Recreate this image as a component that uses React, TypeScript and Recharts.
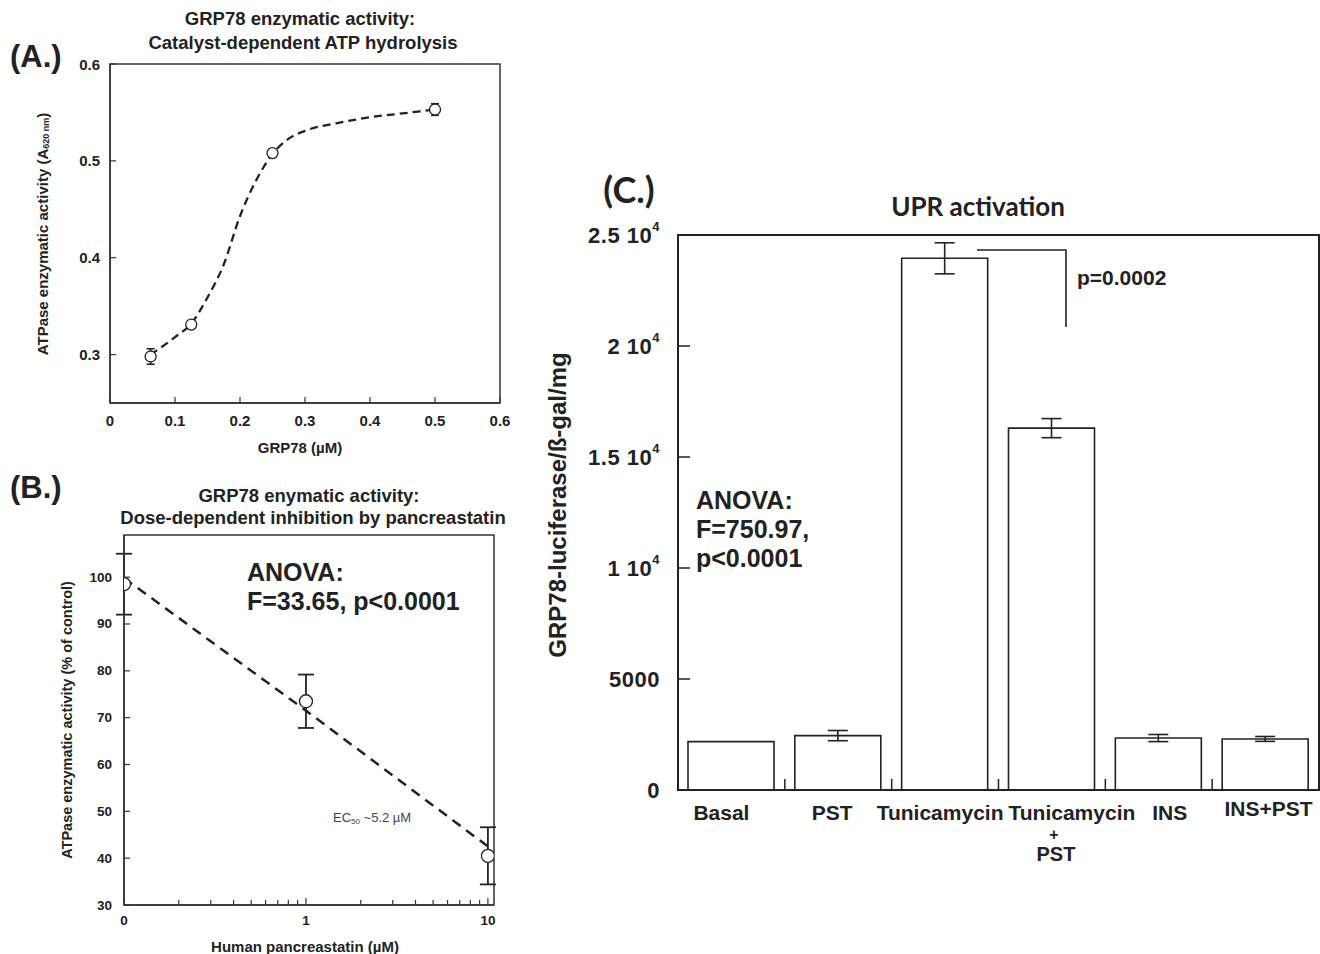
import React from "react"
import { ComposedChart, XAxis, YAxis, Line, Scatter, Bar, ErrorBar, ReferenceArea } from "recharts"

const FONT = "'Liberation Sans', Arial, sans-serif"
const TITLE_FONT = "Lato, 'Open Sans', sans-serif"
const INK = "#222"
const FRAME = "#333"

// (A.) catalyst-dependent ATP hydrolysis
const aPointX = [0.0625, 0.125, 0.25, 0.5]
const aPointY = [0.298, 0.331, 0.508, 0.553]
const aPointErr = [0.008, 0.003, 0.003, 0.006]
const aCurveX = [0.0625, 0.1, 0.125, 0.15, 0.175, 0.2, 0.225, 0.25, 0.275, 0.3, 0.35, 0.4, 0.45, 0.5]
const aCurveY = [0.3, 0.318, 0.332, 0.359, 0.393, 0.443, 0.48, 0.507, 0.523, 0.531, 0.539, 0.545, 0.549, 0.553]
const aXTicks = [0, 0.1, 0.2, 0.3, 0.4, 0.5, 0.6]
const aYTicks = [0.3, 0.4, 0.5, 0.6]

// (B.) inhibition by pancreastatin (log x, "0" drawn at 0.1)
const bPointX = [0.1, 1, 10]
const bPointY = [98.5, 73.5, 40.5]
const bPointErr = [6.5, 5.7, 6.1]
const bFitX = [0.1, 1, 10]
const bFitY = [99.8, 71.5, 42.5]
const bMajorTicks = [0.1, 1, 10]
const bMinorTicks = [0.2, 0.3, 0.4, 0.5, 0.6, 0.7, 0.8, 0.9, 2, 3, 4, 5, 6, 7, 8, 9]
const bYTicks = [30, 40, 50, 60, 70, 80, 90, 100]

// (C.) UPR activation
const cCategories = ["Basal", "PST", "Tunicamycin", "Tunicamycin + PST", "INS", "INS+PST"]
const cValues = [2180, 2450, 23950, 16300, 2340, 2300]
const cErrors = [0, 230, 700, 430, 160, 110]
const cYTicks = [0, 5000, 10000, 15000, 20000, 25000]

const aPoints = aPointX.map((x, i) => ({ x, y: aPointY[i], err: aPointErr[i] }))
const aCurve = aCurveX.map((x, i) => ({ x, y: aCurveY[i] }))
const bPoints = bPointX.map((x, i) => ({ x, y: bPointY[i], err: bPointErr[i] }))
const bFit = bFitX.map((x, i) => ({ x, y: bFitY[i] }))
const bXTicks = [...bMajorTicks, ...bMinorTicks].sort((a, b) => a - b)
const cRows = cCategories.map((name, i) => ({ name, value: cValues[i], err: cErrors[i] }))

const LeftTick = ({ x, y, payload, len, gap, size }: any) => (
  <g>
    <line x1={x} x2={x + len} y1={y} y2={y} stroke={FRAME} strokeWidth={1.2} />
    <text x={x - gap} y={y} textAnchor="end" dominantBaseline="central"
      fontFamily={FONT} fontWeight="bold" fontSize={size} fill={INK}>
      {payload.value}
    </text>
  </g>
)

const BottomTick = ({ x, y, payload, len, gap, size }: any) => (
  <g>
    <line x1={x} x2={x} y1={y} y2={y - len} stroke={FRAME} strokeWidth={1.2} />
    <text x={x} y={y + gap} textAnchor="middle" dominantBaseline="central"
      fontFamily={FONT} fontWeight="bold" fontSize={size} fill={INK}>
      {payload.value}
    </text>
  </g>
)

const LogTick = (p: any) => {
  const major = bMajorTicks.includes(p.payload.value)
  return (
    <g>
      <line x1={p.x} x2={p.x} y1={p.y} y2={p.y - (major ? 7 : 5)} stroke={FRAME} strokeWidth={1.2} />
      {major && (
        <text x={p.x} y={p.y + 15} textAnchor="middle" dominantBaseline="central"
          fontFamily={FONT} fontWeight="bold" fontSize={13.5} fill={INK}>
          {p.payload.value === 0.1 ? "0" : p.payload.value}
        </text>
      )}
    </g>
  )
}

const CTick = ({ x, y, payload }: any) => {
  const v = payload.value
  return (
    <g>
      {v > 0 && <line x1={x} x2={x + 12} y1={y} y2={y} stroke={INK} strokeWidth={1.5} />}
      <text x={x - 18} y={y} textAnchor="end" dominantBaseline="central"
        fontFamily={FONT} fontWeight="bold" fontSize={22} letterSpacing={0.5} fill={INK}>
        {v <= 5000 ? String(v) : (
          <>
            {v / 10000 + " 10"}
            <tspan dy={-9} fontSize={13}>4</tspan>
          </>
        )}
      </text>
    </g>
  )
}

const labelShift = [-10, -6, -5, 20, 11, 3]
const labelLift = [0, 0, 0, 0, 0, -4]

const CatTick = (p: any) => {
  const { x, y, payload, width, visibleTicksCount } = p
  const i = payload.index ?? p.index ?? 0
  const half = payload.offset || width / visibleTicksCount / 2
  const parts = String(payload.value).split(" + ")
  const txt = { fontFamily: FONT, fontWeight: "bold", fill: INK, textAnchor: "middle", dominantBaseline: "central" } as any
  return (
    <g>
      {i < cCategories.length - 1 && (
        <line x1={x + half} x2={x + half} y1={y} y2={y - 11} stroke={INK} strokeWidth={1.5} />
      )}
      <text x={x + labelShift[i]} y={y + 22 + labelLift[i]} fontSize={21} {...txt}>{parts[0]}</text>
      {parts.length > 1 && (
        <>
          <text x={x + 2} y={y + 44} fontSize={16} {...txt}>+</text>
          <text x={x + 4} y={y + 64} fontSize={20} {...txt}>{parts[1]}</text>
        </>
      )}
    </g>
  )
}

const Dot = (r: number) => (p: any) => (
  <circle cx={p.cx} cy={p.cy} r={r} fill="#fff" stroke={INK} strokeWidth={1.3} />
)

function PanelA() {
  return (
    <ComposedChart width={520} height={460} margin={{ top: 64, right: 20, left: 50, bottom: 17 }}>
      <XAxis dataKey="x" type="number" domain={[0, 0.6]} ticks={aXTicks} interval={0} height={40}
        tickSize={0} tickMargin={0} tickLine={false} axisLine={{ stroke: FRAME, strokeWidth: 1.5 }}
        tick={(p: any) => <BottomTick {...p} len={6} gap={17} size={15} />} />
      <YAxis dataKey="y" type="number" domain={[0.25, 0.6]} ticks={aYTicks} interval={0} width={60}
        tickSize={0} tickMargin={0} tickLine={false} axisLine={{ stroke: FRAME, strokeWidth: 1.5 }}
        tick={(p: any) => <LeftTick {...p} len={6} gap={10} size={15} />} />
      <ReferenceArea x1={0} x2={0.6} y1={0.25} y2={0.6} fill="none" stroke={FRAME} strokeWidth={1.5} ifOverflow="visible" />
      <Line data={aCurve} dataKey="y" type="monotone" stroke={INK} strokeWidth={2.3}
        strokeDasharray="8 5" dot={false} isAnimationActive={false} />
      <Scatter data={aPoints} dataKey="y" shape={Dot(5.5)} isAnimationActive={false}>
        <ErrorBar dataKey="err" direction="y" width={4} stroke={INK} strokeWidth={1.6} />
      </Scatter>
    </ComposedChart>
  )
}

function PanelB() {
  return (
    <ComposedChart width={520} height={494} margin={{ top: 75, right: 26, left: 64, bottom: 9 }}>
      <XAxis dataKey="x" type="number" scale="log" domain={[0.1, 10.8]} allowDataOverflow
        ticks={bXTicks} interval={0} height={40} tickSize={0} tickMargin={0} tickLine={false}
        axisLine={{ stroke: FRAME, strokeWidth: 1.5 }} tick={(p: any) => <LogTick {...p} />} />
      <YAxis dataKey="y" type="number" domain={[30, 109]} ticks={bYTicks} interval={0} width={60}
        tickSize={0} tickMargin={0} tickLine={false} axisLine={{ stroke: FRAME, strokeWidth: 1.5 }}
        tick={(p: any) => <LeftTick {...p} len={6} gap={12} size={13.5} />} />
      <ReferenceArea x1={0.1} x2={10.8} y1={30} y2={109} fill="none" stroke={FRAME} strokeWidth={1.5} ifOverflow="visible" />
      <Line data={bFit} dataKey="y" type="linear" stroke={INK} strokeWidth={2.5}
        strokeDasharray="10 7" dot={false} isAnimationActive={false} />
      <Scatter data={bPoints} dataKey="y" shape={Dot(6.5)} isAnimationActive={false}>
        <ErrorBar dataKey="err" direction="y" width={8} stroke={INK} strokeWidth={1.8} />
      </Scatter>
    </ComposedChart>
  )
}

function PanelC() {
  return (
    <ComposedChart width={790} height={794} data={cRows} margin={{ top: 75, right: 1, left: 68, bottom: 64 }}>
      <XAxis dataKey="name" type="category" interval={0} height={100} tickSize={0} tickMargin={0}
        tickLine={false} axisLine={{ stroke: INK, strokeWidth: 2 }} tick={(p: any) => <CatTick {...p} />} />
      <YAxis type="number" domain={[0, 25000]} ticks={cYTicks} interval={0} width={80}
        tickSize={0} tickMargin={0} tickLine={false} axisLine={{ stroke: INK, strokeWidth: 2 }}
        tick={(p: any) => <CTick {...p} />} />
      <ReferenceArea x1="Basal" x2="INS+PST" y1={0} y2={25000} fill="none" stroke={INK} strokeWidth={2} ifOverflow="visible" />
      <Bar dataKey="value" fill="#fff" stroke={INK} strokeWidth={1.6} barSize={86} isAnimationActive={false}>
        <ErrorBar dataKey="err" direction="y" width={10} stroke={INK} strokeWidth={1.6} />
      </Bar>
    </ComposedChart>
  )
}

export default function App() {
  const bold = { fontFamily: FONT, fontWeight: "bold", fill: INK } as any
  return (
    <div style={{ position: "absolute", left: 0, top: 0, width: 1320, height: 954, background: "#fff" }}>
      <div style={{ position: "absolute", left: 0, top: 0 }}><PanelA /></div>
      <div style={{ position: "absolute", left: 0, top: 460 }}><PanelB /></div>
      <div style={{ position: "absolute", left: 530, top: 160 }}><PanelC /></div>
      <svg width={1320} height={954} style={{ position: "absolute", left: 0, top: 0, pointerEvents: "none" }}>
        {/* panel A */}
        <text x={10} y={56} fontSize={31} dominantBaseline="central" {...bold}>(A.)</text>
        <text x={300} y={18} fontSize={18.5} textAnchor="middle" dominantBaseline="central" {...bold}>GRP78 enzymatic activity:</text>
        <text x={303} y={42} fontSize={18.5} textAnchor="middle" dominantBaseline="central" {...bold}>Catalyst-dependent ATP hydrolysis</text>
        <text transform="translate(42,234) rotate(-90)" fontSize={15} textAnchor="middle" dominantBaseline="central" {...bold}>
          ATPase enzymatic activity (A<tspan fontSize={9} dy={4}>620 nm</tspan><tspan dy={-4}>)</tspan>
        </text>
        <text x={300} y={447} fontSize={15} textAnchor="middle" dominantBaseline="central" {...bold}>GRP78 (µM)</text>

        {/* panel B */}
        <text x={10} y={487} fontSize={31} dominantBaseline="central" {...bold}>(B.)</text>
        <text x={309} y={495} fontSize={18.5} textAnchor="middle" dominantBaseline="central" {...bold}>GRP78 enymatic activity:</text>
        <text x={313} y={517} fontSize={18.5} textAnchor="middle" dominantBaseline="central" {...bold}>Dose-dependent inhibition by pancreastatin</text>
        <text transform="translate(67,720) rotate(-90)" fontSize={14.5} textAnchor="middle" dominantBaseline="central" {...bold}>
          ATPase enzymatic activity (% of control)
        </text>
        <text x={305} y={946} fontSize={15} textAnchor="middle" dominantBaseline="central" {...bold}>Human pancreastatin (µM)</text>
        <text x={247} y={572} fontSize={25} dominantBaseline="central" {...bold}>ANOVA:</text>
        <text x={247} y={601} fontSize={25} dominantBaseline="central" {...bold}>F=33.65, p&lt;0.0001</text>
        <text x={333} y={817} fontSize={13} fontFamily={FONT} fill="#444" dominantBaseline="central">
          EC<tspan fontSize={8} dy={4}>50</tspan><tspan dy={-4}> ~5.2 µM</tspan>
        </text>

        {/* panel C */}
        <text x={629} y={189} fontSize={36} fontFamily={TITLE_FONT} fontWeight="bold" fill={INK}
          textAnchor="middle" dominantBaseline="central">(C.)</text>
        <text x={978} y={206} fontSize={26} fontFamily={TITLE_FONT} fontWeight="bold" fill={INK}
          textAnchor="middle" dominantBaseline="central">UPR activation</text>
        <text transform="translate(557,505) rotate(-90)" fontSize={24} textAnchor="middle" dominantBaseline="central" {...bold}>
          GRP78-luciferase/ß-gal/mg
        </text>
        <text x={696} y={500} fontSize={25} dominantBaseline="central" {...bold}>ANOVA:</text>
        <text x={696} y={529} fontSize={25} dominantBaseline="central" {...bold}>F=750.97,</text>
        <text x={696} y={558} fontSize={25} dominantBaseline="central" {...bold}>p&lt;0.0001</text>
        <polyline points="977,250 1066,250 1066,327" fill="none" stroke={INK} strokeWidth={1.6} />
        <text x={1077} y={277} fontSize={21} dominantBaseline="central" {...bold}>p=0.0002</text>
      </svg>
    </div>
  )
}
